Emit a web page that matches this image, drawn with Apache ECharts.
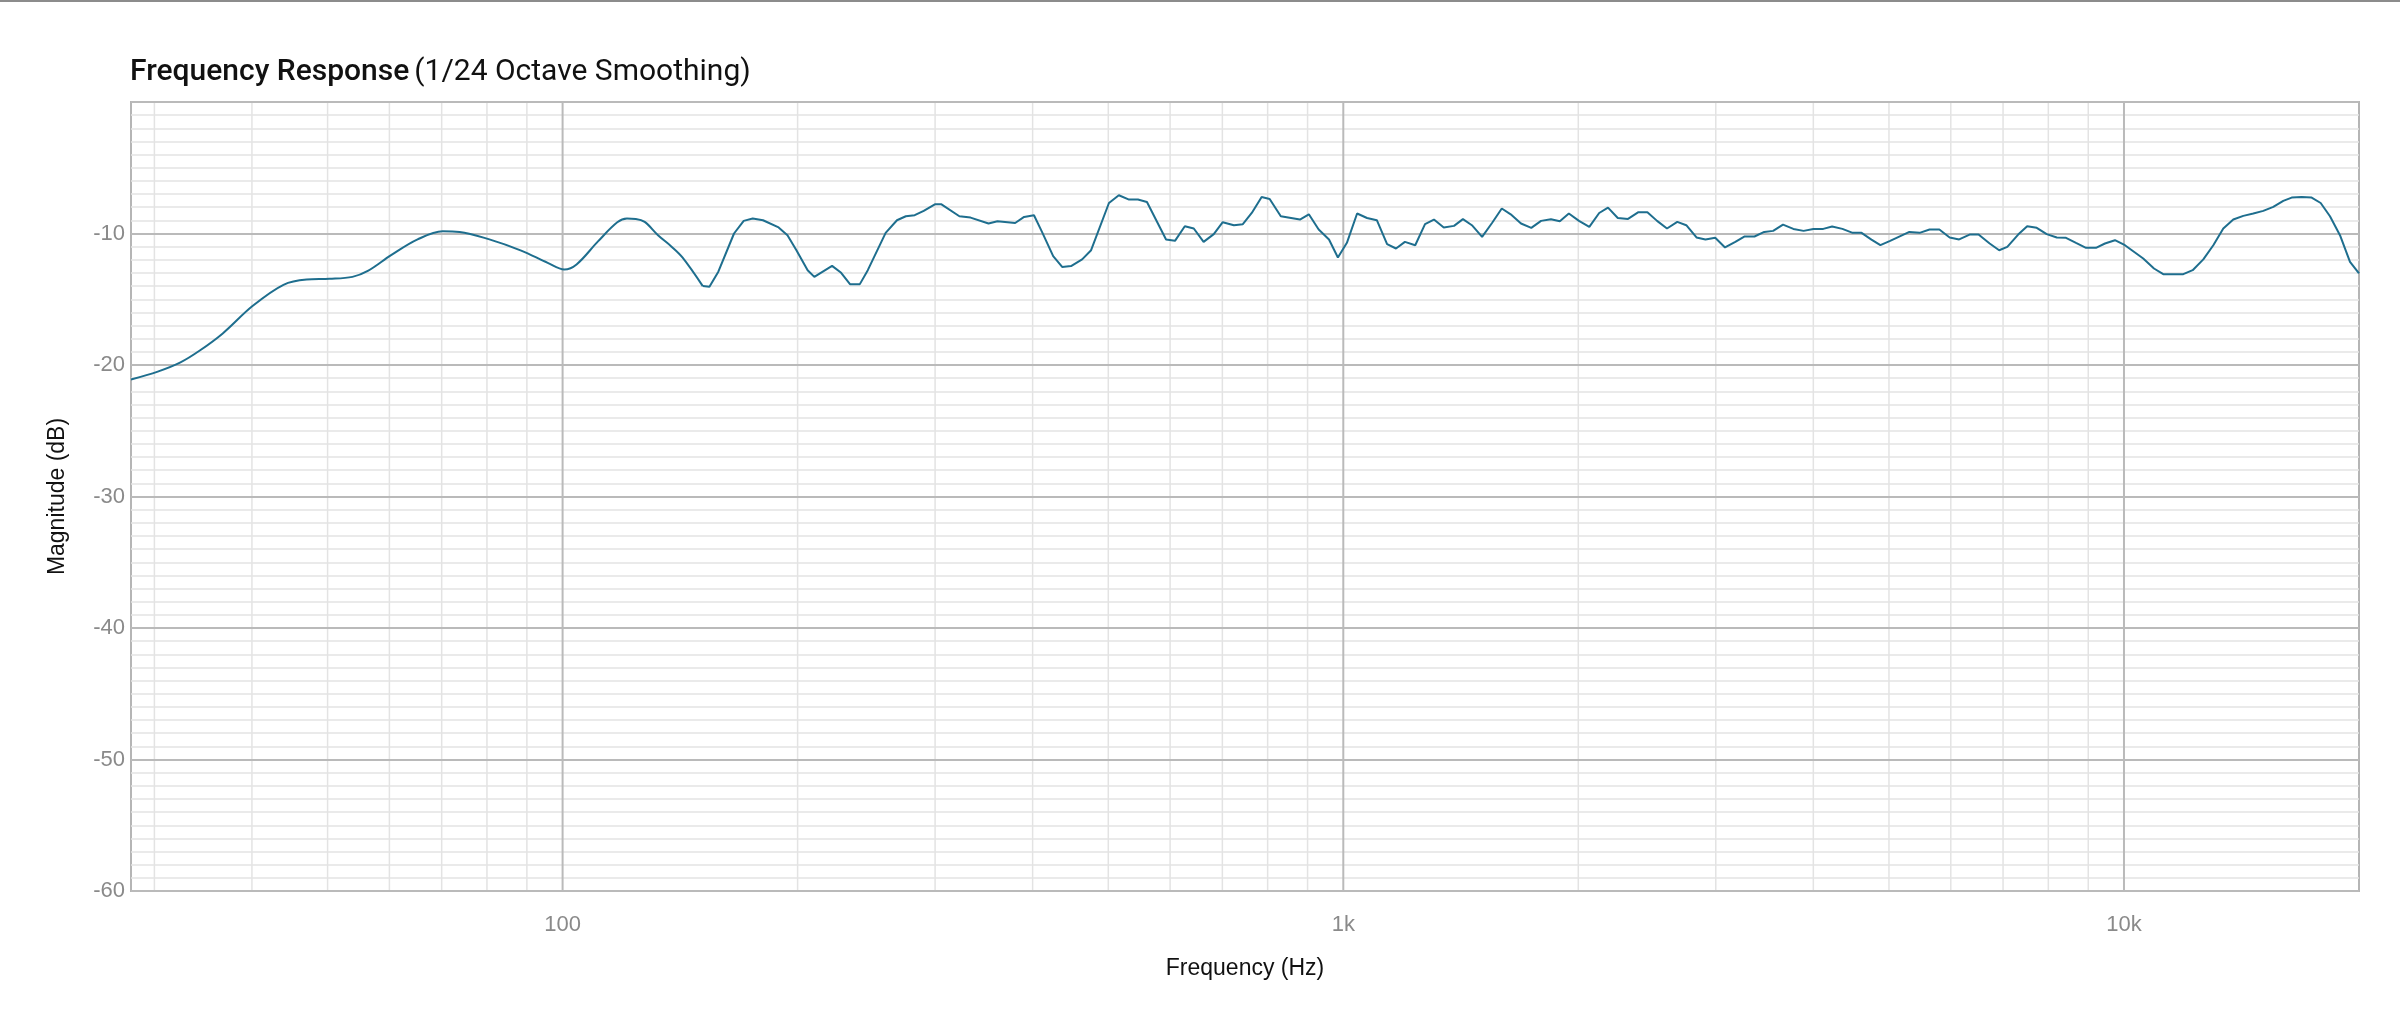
<!DOCTYPE html>
<html>
<head>
<meta charset="utf-8">
<script src="https://cdn.jsdelivr.net/npm/echarts@6/dist/echarts.min.js"></script>
<style>
html,body{margin:0;padding:0;background:#fff;}
#chart{width:2400px;height:1031px;}
</style>
</head>
<body>
<div id="chart"></div>
<script>
// Frequency (Hz)
const freqHz = [
  28, 30.3, 32.4, 34.3, 36.7, 40.1, 43.9, 47.0, 50.3, 53.8, 56.3, 60.3, 65.2, 70.2, 73.8, 80.4, 88.5, 95.7,
  100.5, 104.2, 111, 117.5, 120.9, 124.1, 127.4, 132.5, 137.9, 142.4, 151.2, 154.2, 158.3, 165.8, 170.6, 175.2,
  180.6, 189.1, 194.1, 199.3, 206, 210.1, 221.4, 227.4, 233.4, 240.3, 246, 259.3, 268.1, 275.2, 282.5, 290.1,
  299.8, 305.7, 322.3, 333.1, 351.2, 360.6, 379.9, 390.1, 401.6, 411.2, 425, 436.4, 448, 462.9, 475.3, 501,
  515.8, 531.6, 545.7, 560.4, 592.9, 608.7, 626.6, 643.4, 662.3, 682.5, 700.8, 724.2, 743.6, 763.4, 786, 804.8,
  831.7, 879.9, 903.4, 930, 958.7, 984.2, 1010.7, 1041.6, 1072.5, 1104, 1137.9, 1168.2, 1199.3, 1236.3, 1272.6,
  1306.5, 1344.9, 1386.2, 1423.1, 1461.3, 1505.9, 1550.6, 1595.9, 1638.5, 1689, 1741, 1792, 1845, 1894, 1945,
  2004, 2066, 2127, 2183, 2247, 2316, 2388, 2452, 2523, 2598, 2678, 2750, 2834, 2910, 2995, 3083, 3178, 3263,
  3363, 3461, 3553, 3658, 3771, 3887, 4001, 4119, 4228, 4358, 4492, 4612, 4748, 4875, 5017, 5170, 5310, 5473,
  5636, 5801, 5980, 6150, 6342, 6512, 6729, 6920, 7088, 7319, 7516, 7731, 7961, 8202, 8428, 8680, 8940, 9207,
  9454, 9737, 10028, 10584, 10925, 11227, 11911, 12246, 12636, 13014, 13403, 13804, 14217, 14642, 15080, 15532,
  15997, 16397, 16888, 17393, 17862, 18359, 18909, 19476, 20000
];
// Magnitude (dB)
const magDb = [
  -21.1, -20.5, -19.8, -18.9, -17.6, -15.5, -13.9, -13.5, -13.45, -13.3, -12.85, -11.65, -10.45, -9.83, -9.88, -10.43, -11.3, -12.23,
  -12.73, -12.35, -10.6, -9.15, -8.86, -8.89, -9.12, -10.13, -11.0, -11.82, -14.0, -14.05, -12.9, -10.0, -9.04, -8.86,
  -8.99, -9.54, -10.13, -11.27, -12.79, -13.3, -12.46, -12.99, -13.85, -13.85, -12.79, -9.95, -8.99, -8.69, -8.61, -8.28,
  -7.78, -7.78, -8.69, -8.79, -9.24, -9.07, -9.2, -8.74, -8.61, -9.88, -11.72, -12.54, -12.48, -11.97, -11.27, -7.68,
  -7.09, -7.42, -7.42, -7.6, -10.46, -10.56, -9.45, -9.62, -10.64, -10.05, -9.14, -9.37, -9.29, -8.44, -7.22, -7.37,
  -8.69, -8.94, -8.54, -9.7, -10.46, -11.82, -10.71, -8.48, -8.82, -8.99, -10.81, -11.14, -10.64, -10.89, -9.29,
  -8.94, -9.54, -9.42, -8.91, -9.37, -10.26, -9.2, -8.1, -8.54, -9.24, -9.57, -9.04, -8.91, -9.07, -8.48,
  -9.04, -9.5, -8.44, -8.03, -8.82, -8.89, -8.38, -8.38, -9.04, -9.62, -9.12, -9.37, -10.3, -10.46, -10.33, -11.06, -10.64, -10.23,
  -10.23, -9.88, -9.8, -9.32, -9.65, -9.8, -9.65, -9.65, -9.47, -9.65, -9.95, -9.95, -10.46, -10.89, -10.56, -10.2, -9.88, -9.95,
  -9.7, -9.7, -10.3, -10.45, -10.08, -10.08, -10.76, -11.27, -11.02, -10.08, -9.45, -9.57, -10.05, -10.3, -10.33, -10.71, -11.09, -11.09,
  -10.76, -10.51, -10.89, -11.9, -12.66, -13.09, -13.09, -12.79, -11.97, -10.89, -9.62, -8.94, -8.66, -8.48, -8.28, -7.98,
  -7.52, -7.27, -7.22, -7.27, -7.68, -8.69, -10.13, -12.16, -13.04
];
// Axis ticks
const xTickLabels = { 100: '100', 1000: '1k', 10000: '10k' };
const xMajorGrid = [100, 1000, 10000];
const xMinorGrid = [30, 40, 50, 60, 70, 80, 90, 200, 300, 400, 500, 600, 700, 800, 900,
  2000, 3000, 4000, 5000, 6000, 7000, 8000, 9000];
const yTicks = [-60, -50, -40, -30, -20, -10];

const X_MIN = 28, X_MAX = 20000, Y_MIN = -60, Y_MAX = 0;
const SMOOTH_BELOW_HZ = 151.2;

const FONT = '"Liberation Sans", Arial, sans-serif';

const allPoints = freqHz.map((f, i) => [f, magDb[i]]);
const lowPoints = allPoints.filter(p => p[0] <= SMOOTH_BELOW_HZ);
const highPoints = allPoints.filter(p => p[0] >= SMOOTH_BELOW_HZ);

function gridSeries(f, color, width, z) {
  return {
    type: 'line', silent: true, animation: false, symbol: 'none', z: z,
    data: [[f, Y_MIN], [f, Y_MAX]],
    lineStyle: { color: color, width: width },
    tooltip: { show: false }
  };
}

const LINE_COLOR = '#1e6e8e';
const series = [];
xMinorGrid.forEach(f => series.push(gridSeries(f, '#e3e3e3', 1.5, 1)));
xMajorGrid.forEach(f => series.push(gridSeries(f, '#bababa', 2, 1.8)));
series.push({
  type: 'line', name: 'Frequency Response', data: lowPoints, symbol: 'none', smooth: 0.35,
  animation: false, z: 3, lineStyle: { color: LINE_COLOR, width: 2 }
});
series.push({
  type: 'line', name: 'Frequency Response', data: highPoints, symbol: 'none', smooth: false,
  animation: false, z: 3, lineStyle: { color: LINE_COLOR, width: 2 }
});

const chart = echarts.init(document.getElementById('chart'), null, { renderer: 'canvas' });
chart.setOption({
  backgroundColor: '#ffffff',
  animation: false,
  graphic: [{
    type: 'line', silent: true, z: 10,
    shape: { x1: 0, y1: 1, x2: 2400, y2: 1 },
    style: { stroke: '#8c8c8c', lineWidth: 2 }
  }],
  title: {
    left: 130, top: 57, padding: 0,
    text: '{a|Frequency Response} {b|(1/24 Octave Smoothing)}',
    textStyle: {
      rich: {
        a: { fontFamily: 'Roboto, "Liberation Sans", sans-serif', fontWeight: 500, fontSize: 30, color: '#111' },
        b: { fontFamily: 'Roboto, "Liberation Sans", sans-serif', fontWeight: 400, fontSize: 30, color: '#111' }
      }
    }
  },
  grid: {
    left: 131, right: 41, top: 102, bottom: 140,
    show: true, borderColor: '#b5b5b5', borderWidth: 2, backgroundColor: 'transparent'
  },
  xAxis: {
    type: 'log', logBase: 10, min: X_MIN, max: X_MAX, z: 1.6,
    name: 'Frequency (Hz)', nameLocation: 'middle', nameGap: 66,
    nameTextStyle: { fontFamily: FONT, fontSize: 23, color: '#111' },
    axisLine: { show: false }, axisTick: { show: false },
    splitLine: { show: false },
    axisLabel: {
      margin: 23, fontFamily: FONT, fontSize: 22, color: '#8a8a8a',
      formatter: v => xTickLabels[Math.round(v)] || ''
    }
  },
  yAxis: {
    type: 'value', min: Y_MIN, max: Y_MAX, interval: 10, z: 1.5,
    name: 'Magnitude (dB)', nameLocation: 'middle', nameGap: 62, nameRotate: 90,
    nameTextStyle: { fontFamily: FONT, fontSize: 23, color: '#111' },
    axisLine: { show: false }, axisTick: { show: false },
    axisLabel: {
      margin: 6, fontFamily: FONT, fontSize: 22, color: '#8a8a8a',
      padding: [6, 0, 0, 0],
      formatter: v => (yTicks.indexOf(v) >= 0 ? String(v) : '')
    },
    splitLine: { show: true, lineStyle: { color: '#bababa', width: 2 } },
    minorTick: { show: false, splitNumber: 10 },
    minorSplitLine: { show: true, lineStyle: { color: '#e3e3e3', width: 1.5 } }
  },
  series: series
});
</script>
</body>
</html>
